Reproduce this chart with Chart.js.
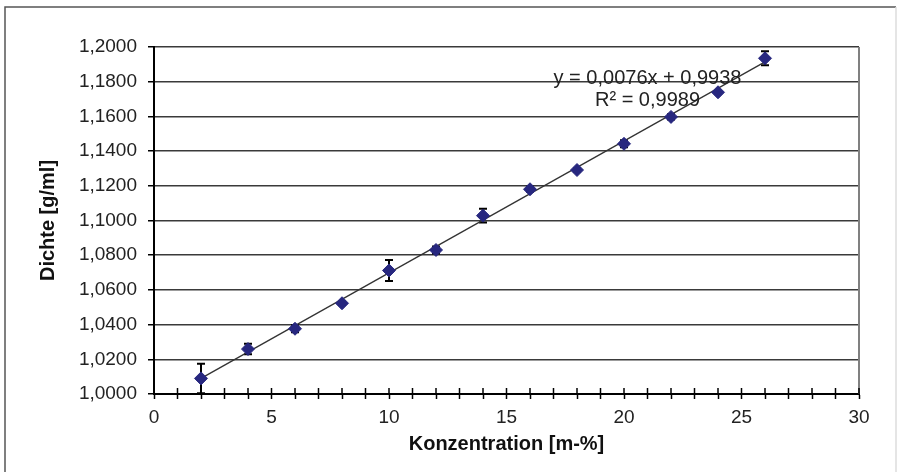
<!DOCTYPE html>
<html>
<head>
<meta charset="utf-8">
<script src="https://cdn.jsdelivr.net/npm/chart.js@4"></script>
<style>
  html, body { margin: 0; padding: 0; background: #fff; }
  #wrap { width: 897px; height: 472px; position: relative; }
</style>
</head>
<body>
<div id="wrap"><canvas id="chart" width="897" height="472"></canvas></div>
<script>
// Messwerte
const konzentration = [2, 4, 6, 8, 10, 12, 14, 16, 18, 20, 22, 24, 26]
const dichte = [1.0090, 1.0259, 1.0376, 1.0523, 1.0712, 1.0830, 1.1028, 1.1180, 1.1291, 1.1442, 1.1597, 1.1739, 1.1935]
const fehler = [0.0085, 0.0030, 0.0020, 0.0010, 0.0060, 0.0020, 0.0040, 0.0015, 0.0010, 0.0020, 0.0015, 0.0005, 0.0040]

// Trendlinie (Endpunkte)
const trendX = [2, 26]
const trendY = [1.0090, 1.1914]
const gleichung = ["y = 0,0076x + 0,9938", "R² = 0,9989"]

const komma = v => String(v).replace(".", ",")

const punkte = konzentration.map((x, i) => ({x: x, y: dichte[i]}))
const trend = trendX.map((x, i) => ({x: x, y: trendY[i]}))

const extras = {
  id: "extras",
  beforeDraw(chart) {
    const ctx = chart.ctx
    ctx.save()
    ctx.lineWidth = 1.5
    ctx.strokeStyle = "#555"
    ctx.beginPath()
    ctx.moveTo(5, 480); ctx.lineTo(5, 7); ctx.lineTo(896, 7)
    ctx.stroke()
    ctx.strokeStyle = "#ddd"
    ctx.beginPath()
    ctx.moveTo(896, 7); ctx.lineTo(896, 480)
    ctx.stroke()
    ctx.restore()
  },
  beforeDatasetsDraw(chart) {
    const ctx = chart.ctx
    const xs = chart.scales.x, ys = chart.scales.y
    const a = chart.chartArea
    ctx.save()
    // rechter Rahmen
    ctx.strokeStyle = "#808080"
    ctx.lineWidth = 2
    ctx.beginPath()
    ctx.moveTo(a.right, a.top); ctx.lineTo(a.right, a.bottom)
    ctx.stroke()
    // Teilstriche nach innen
    ctx.strokeStyle = "#000"
    ctx.lineWidth = 1.5
    xs.ticks.forEach(t => {
      const px = xs.getPixelForValue(t.value)
      ctx.beginPath()
      ctx.moveTo(px, a.bottom); ctx.lineTo(px, a.bottom - 6)
      ctx.stroke()
    })
    // Fehlerbalken
    ctx.lineWidth = 2
    konzentration.forEach((x, i) => {
      const px = xs.getPixelForValue(x)
      const top = ys.getPixelForValue(dichte[i] + fehler[i])
      const bot = ys.getPixelForValue(dichte[i] - fehler[i])
      ctx.beginPath()
      ctx.moveTo(px, top); ctx.lineTo(px, bot)
      ctx.moveTo(px - 4, top); ctx.lineTo(px + 4, top)
      ctx.moveTo(px - 4, bot); ctx.lineTo(px + 4, bot)
      ctx.stroke()
    })
    ctx.restore()
  },
  afterDatasetsDraw(chart) {
    const ctx = chart.ctx
    const xs = chart.scales.x, ys = chart.scales.y
    ctx.save()
    ctx.fillStyle = "#222"
    ctx.font = "20px 'Liberation Sans', Arial, sans-serif"
    ctx.textAlign = "center"
    ctx.textBaseline = "middle"
    const cx = xs.getPixelForValue(21.0)
    ctx.fillText(gleichung[0], cx, ys.getPixelForValue(1.1816))
    ctx.fillText(gleichung[1], cx, ys.getPixelForValue(1.1692))
    ctx.restore()
  }
}

new Chart(document.getElementById("chart"), {
  type: "scatter",
  data: {
    datasets: [
      {
        label: "Dichte",
        data: punkte,
        pointStyle: "rectRot",
        pointRadius: 6.5,
        pointHoverRadius: 6.5,
        backgroundColor: "#27277f",
        borderColor: "#27277f",
        borderWidth: 1,
        order: 0
      },
      {
        type: "line",
        label: "Trend",
        data: trend,
        borderColor: "#333",
        borderWidth: 1.3,
        pointRadius: 0,
        fill: false,
        order: 1
      }
    ]
  },
  options: {
    responsive: false,
    animation: false,
    events: [],
    layout: { padding: { left: 0, top: 47, right: 38, bottom: 0 } },
    plugins: {
      legend: { display: false },
      tooltip: { enabled: false }
    },
    scales: {
      x: {
        type: "linear",
        min: 0,
        max: 30,
        afterFit: s => { s.height = 78 },
        ticks: {
          stepSize: 1,
          autoSkip: false,
          maxRotation: 0,
          padding: 7,
          color: "#222",
          font: { family: "'Liberation Sans', Arial, sans-serif", size: 19 },
          callback: v => (v % 5 === 0 ? String(v) : "")
        },
        grid: { drawOnChartArea: false, tickLength: 5, tickColor: "#000", tickWidth: 1.5 },
        border: { color: "#000", width: 2 },
        title: {
          display: true,
          text: "Konzentration [m-%]",
          color: "#111",
          padding: { top: 0, bottom: 16 },
          font: { family: "'Liberation Sans', Arial, sans-serif", size: 20, weight: "bold" }
        }
      },
      y: {
        min: 1.0,
        max: 1.2,
        afterFit: s => { s.width = 154 },
        ticks: {
          stepSize: 0.02,
          padding: 11,
          color: "#222",
          font: { family: "'Liberation Sans', Arial, sans-serif", size: 19 },
          callback: v => komma(v.toFixed(4))
        },
        grid: { color: "#3a3a3a", lineWidth: 1.5, tickLength: 6, tickColor: "#000" },
        border: { color: "#000", width: 2 },
        title: {
          display: true,
          text: "Dichte [g/ml]",
          color: "#111",
          padding: { top: 36, bottom: 0 },
          font: { family: "'Liberation Sans', Arial, sans-serif", size: 20, weight: "bold" }
        }
      }
    }
  },
  plugins: [extras]
})
</script>
</body>
</html>
